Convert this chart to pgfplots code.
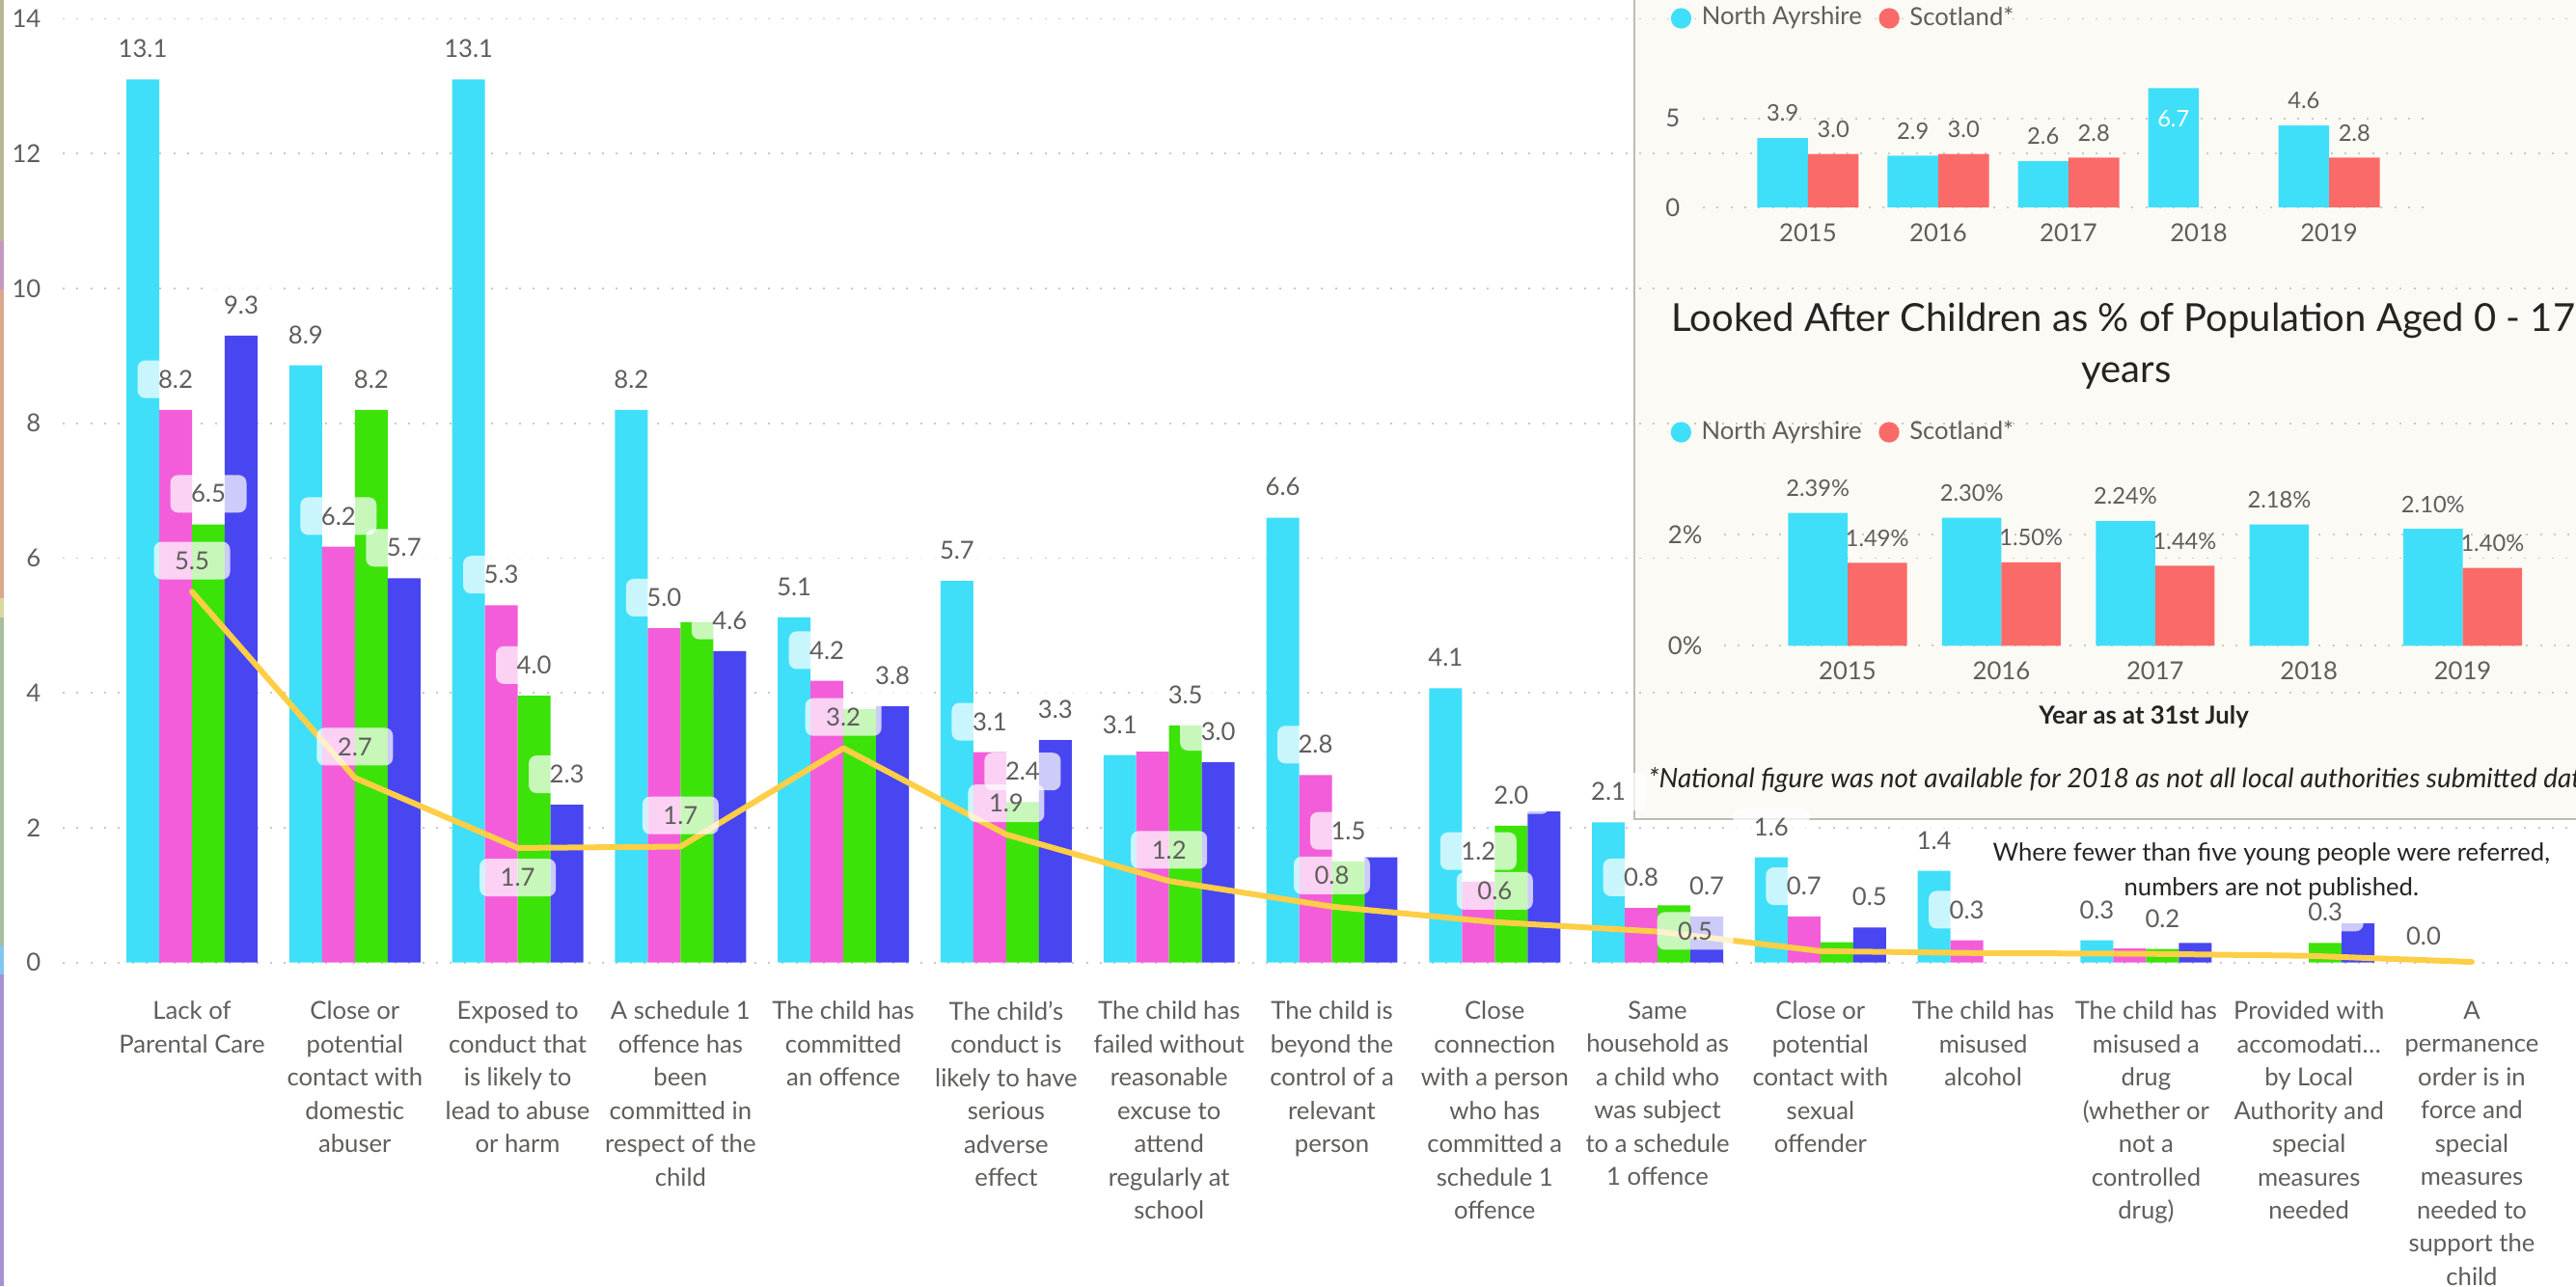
\documentclass[border=0pt]{standalone}
\usepackage{fontspec}
\setmainfont{Lato}
\usepackage{pgfplots}
\usepackage{pgfplotstable}
\pgfplotsset{compat=1.18}

\definecolor{cyanb}{RGB}{63,223,249}
\definecolor{magb}{RGB}{243,93,217}
\definecolor{greenb}{RGB}{59,227,9}
\definecolor{blueb}{RGB}{72,70,240}
\definecolor{lineY}{RGB}{254,206,70}
\definecolor{redb}{RGB}{250,106,104}
\definecolor{boxbg}{RGB}{252,250,244}
\definecolor{boxline}{RGB}{190,188,185}
\definecolor{txtgray}{RGB}{96,94,92}
\definecolor{txtdark}{RGB}{37,36,35}
\definecolor{gridc}{RGB}{200,200,200}
\definecolor{stripA}{RGB}{184,181,152}
\definecolor{stripB}{RGB}{200,152,196}
\definecolor{stripC}{RGB}{218,168,140}
\definecolor{stripD}{RGB}{216,216,160}
\definecolor{stripE}{RGB}{168,190,160}
\definecolor{stripF}{RGB}{128,200,240}
\definecolor{stripG}{RGB}{168,144,208}

% main chart: cyan, magenta, green, blue bars; ln = yellow line
% fc..fl = label shown (1) or hidden (0); ldx, ldy = offsets of the line labels
\pgfplotstableread{
g  c     m     gr    b     ln    fc fm fg fb fl ldx   ldy
0  13.1  8.2   6.5   9.3   5.5   1  1  1  1  1  0     3.65
1  8.86  6.17  8.2   5.7   2.74  1  1  1  1  1  0     3.65
2  13.1  5.3   3.96  2.34  1.7   1  1  1  1  1  0     -15.25
3  8.2   4.96  5.05  4.62  1.72  1  1  0  1  1  0     3.65
4  5.12  4.18  3.76  3.8   3.18  1  1  0  1  1  0     3.65
5  5.66  3.12  2.38  3.3   1.9   1  1  1  1  1  0     3.65
6  3.08  3.13  3.52  2.97  1.21  1  0  1  1  1  0     3.65
7  6.6   2.78  1.5   1.56  0.83  1  1  1  0  1  0     3.65
8  4.07  1.2   2.03  2.24  0.6   1  1  1  0  1  0     3.65
9  2.08  0.81  0.85  0.68  0.46  1  1  0  1  1  11.7  -5.85
10 1.56  0.68  0.3   0.52  0.17  1  1  0  1  0  0     3.65
11 1.36  0.33  nan   nan   0.14  1  1  0  0  0  0     3.65
12 0.33  0.21  0.2   0.29  0.13  1  0  1  0  0  0     3.65
13 nan   nan   0.29  0.58  0.1   0  0  1  0  0  0     3.65
14 nan   nan   nan   nan   0.01  0  0  0  0  1  -15   1.95
}\maindata

\pgfplotstableread{
g  na   sc   fna
0  3.9  3.0  1
1  2.9  3.0  1
2  2.6  2.8  1
3  6.7  nan  2
4  4.6  2.8  1
}\rateA

\pgfplotstableread{
g  na    sc
0  2.39  1.49
1  2.30  1.50
2  2.24  1.44
3  2.18  nan
4  2.10  1.40
}\rateB

\pgfplotsset{
  griddot/.style={gridc, line width=0.5pt, dash pattern=on 0.6pt off 3.7pt},
  mlbl/.style={draw=none, mark=none, forget plot, point meta=y,
    nodes near coords={\pgfmathprintnumber[fixed,fixed zerofill,precision=1]{\pgfplotspointmeta}},
    every node near coord/.append style={font=\fontsize{7.7}{9}\selectfont, text=txtgray,
      fill=white, fill opacity=0.72, text opacity=1, rounded corners=2.4pt, inner sep=0pt,
      minimum width=23.7pt, minimum height=11.7pt, anchor=south}},
  ilbl/.style={draw=none, mark=none, forget plot, point meta=y,
    every node near coord/.append style={font=\fontsize{7.1}{8.5}\selectfont, text=txtgray,
      inner sep=0pt, minimum height=8pt, anchor=south, yshift=3.5pt}},
  dotlegend/.style={legend image code/.code={\fill[#1] (3.2pt,0pt) circle (3.2pt);}},
}

\begin{document}
\begin{tikzpicture}
% thin coloured strip at the left edge
\fill[stripA] (0pt,324.9pt) rectangle (1.2pt,399.9pt);
\fill[stripB] (0pt,309.9pt) rectangle (1.2pt,324.9pt);
\fill[stripC] (0pt,213.9pt) rectangle (1.2pt,309.9pt);
\fill[stripD] (0pt,207.9pt) rectangle (1.2pt,213.9pt);
\fill[stripE] (0pt,105.9pt) rectangle (1.2pt,207.9pt);
\fill[stripF] (0pt,96.9pt) rectangle (1.2pt,105.9pt);
\fill[stripG] (0pt,0pt) rectangle (1.2pt,96.9pt);

% inset panel background
\fill[boxbg] (508.2pt,145.2pt) rectangle (815pt,410pt);
\draw[boxline, line width=0.6pt] (508.2pt,410pt) -- (508.2pt,145.2pt) -- (815pt,145.2pt);

% ---------------- main chart ----------------
\begin{axis}[
  at={(19.5pt,100.59pt)}, anchor=south west, scale only axis,
  width=781.5pt, height=293.46pt,
  xmin=-0.794, xmax=14.64, ymin=0, ymax=14,
  clip=false,
  axis line style={draw=none}, major tick length=0pt, tick style={draw=none},
  ymajorgrids, grid style={griddot},
  ytick={0,2,...,14},
  xtick={0,...,14},
  xticklabels={
    {Lack of\\Parental Care},
    {Close or\\potential\\contact with\\domestic\\abuser},
    {Exposed to\\conduct that\\is likely to\\lead to abuse\\or harm},
    {A schedule 1\\offence has\\been\\committed in\\respect of the\\child},
    {The child has\\committed\\an offence},
    {The child's\\conduct is\\likely to have\\serious\\adverse\\effect},
    {The child has\\failed without\\reasonable\\excuse to\\attend\\regularly at\\school},
    {The child is\\beyond the\\control of a\\relevant\\person},
    {Close\\connection\\with a person\\who has\\committed a\\schedule 1\\offence},
    {Same\\household as\\a child who\\was subject\\to a schedule\\1 offence},
    {Close or\\potential\\contact with\\sexual\\offender},
    {The child has\\misused\\alcohol},
    {The child has\\misused a\\drug\\(whether or\\not a\\controlled\\drug)},
    {Provided with\\accomodati\dots\\by Local\\Authority and\\special\\measures\\needed},
    {A\\permanence\\order is in\\force and\\special\\measures\\needed to\\support the\\child}},
  /pgf/number format/assume math mode=true,
  tick label style={font=\fontsize{7.7}{10.35}\selectfont, text=txtgray},
  yticklabel style={anchor=east, inner sep=0pt, xshift=-6.6pt},
  xticklabel style={anchor=north, inner sep=0pt, yshift=-11.8pt, align=center},
]
\addplot[ybar, bar width=0.2014, bar shift=-0.302, draw=none, fill=cyanb] table[x=g, y=c]{\maindata};
\addplot[ybar, bar width=0.2014, bar shift=-0.1007, draw=none, fill=magb] table[x=g, y=m]{\maindata};
\addplot[ybar, bar width=0.2014, bar shift=0.1007, draw=none, fill=greenb] table[x=g, y=gr]{\maindata};
\addplot[ybar, bar width=0.2014, bar shift=0.302, draw=none, fill=blueb] table[x=g, y=b]{\maindata};
\addplot[lineY, line width=1.8pt, line join=round, line cap=round, mark=none] table[x=g, y=ln]{\maindata};

\addplot[mlbl, every node near coord/.append style={yshift=3.45pt},
  restrict expr to domain={\thisrow{fc}}{1:1}] table[x expr=\thisrow{g}-0.302, y=c]{\maindata};
\addplot[mlbl, every node near coord/.append style={yshift=3.45pt},
  restrict expr to domain={\thisrow{fm}}{1:1}] table[x expr=\thisrow{g}-0.1007, y=m]{\maindata};
\addplot[mlbl, every node near coord/.append style={yshift=3.45pt},
  restrict expr to domain={\thisrow{fg}}{1:1}] table[x expr=\thisrow{g}+0.1007, y=gr]{\maindata};
\addplot[mlbl, every node near coord/.append style={yshift=3.45pt},
  restrict expr to domain={\thisrow{fb}}{1:1}] table[x expr=\thisrow{g}+0.302, y=b]{\maindata};
\addplot[mlbl,
  visualization depends on={\thisrow{ldx}\as\ldx},
  visualization depends on={\thisrow{ldy}\as\ldy},
  every node near coord/.append style={xshift=\ldx pt, yshift=\ldy pt},
  restrict expr to domain={\thisrow{fl}}{1:1}] table[x=g, y=ln]{\maindata};
\end{axis}

% ---------------- inset 1 ----------------
\begin{axis}[
  at={(529.5pt,335.4pt)}, anchor=south west, scale only axis,
  width=225.45pt, height=38.76pt,
  xmin=-0.807, xmax=4.759, ymin=0, ymax=7, clip=false,
  axis line style={draw=none}, major tick length=0pt, tick style={draw=none},
  ymajorgrids, grid style={griddot},
  ytick={0,5}, xtick={0,...,4}, xticklabels={2015,2016,2017,2018,2019},
  /pgf/number format/assume math mode=true,
  tick label style={font=\fontsize{7.7}{9}\selectfont, text=txtgray},
  yticklabel style={anchor=east, inner sep=0pt, xshift=-6.9pt},
  xticklabel style={anchor=center, inner sep=0pt, yshift=-8pt},
  legend style={at={(-0.045,1.517)}, anchor=west, draw=none, fill=none, inner sep=0pt,
    legend columns=-1, font=\fontsize{7.7}{9}\selectfont, text=txtgray,
    /tikz/every odd column/.append style={column sep=1.2pt},
    /tikz/every even column/.append style={column sep=3.3pt}},
]
\addplot[ybar, bar width=0.389, bar shift=-0.1944, draw=none, fill=cyanb, dotlegend] table[x=g, y=na]{\rateA};
\addlegendentry{North Ayrshire}
\addplot[ybar, bar width=0.389, bar shift=0.1944, draw=none, fill=redb, dotlegend] table[x=g, y=sc]{\rateA};
\addlegendentry{Scotland*}
\addplot[ilbl, nodes near coords={\pgfmathprintnumber[fixed,fixed zerofill,precision=1]{\pgfplotspointmeta}},
  restrict expr to domain={\thisrow{fna}}{1:1}] table[x expr=\thisrow{g}-0.1944, y=na]{\rateA};
\addplot[ilbl, nodes near coords={\pgfmathprintnumber[fixed,fixed zerofill,precision=1]{\pgfplotspointmeta}},
  every node near coord/.append style={text=white, yshift=-17.1pt},
  restrict expr to domain={\thisrow{fna}}{2:2}] table[x expr=\thisrow{g}-0.1944, y=na]{\rateA};
\addplot[ilbl, nodes near coords={\pgfmathprintnumber[fixed,fixed zerofill,precision=1]{\pgfplotspointmeta}}]
  table[x expr=\thisrow{g}+0.1944, y=sc]{\rateA};
\end{axis}

% ---------------- inset 2 ----------------
\begin{axis}[
  at={(536.1pt,199.11pt)}, anchor=south west, scale only axis,
  width=270.9pt, height=44.97pt,
  xmin=-0.803, xmax=4.862, ymin=0, ymax=2.6, clip=false,
  axis line style={draw=none}, major tick length=0pt, tick style={draw=none},
  ymajorgrids, grid style={griddot},
  ytick={0,2}, yticklabels={0\%,2\%},
  xtick={0,...,4}, xticklabels={2015,2016,2017,2018,2019},
  /pgf/number format/assume math mode=true,
  tick label style={font=\fontsize{7.7}{9}\selectfont, text=txtgray},
  yticklabel style={anchor=east, inner sep=0pt, xshift=-6.6pt},
  xticklabel style={anchor=center, inner sep=0pt, yshift=-7.7pt},
  legend style={at={(-0.062,1.476)}, anchor=west, draw=none, fill=none, inner sep=0pt,
    legend columns=-1, font=\fontsize{7.7}{9}\selectfont, text=txtgray,
    /tikz/every odd column/.append style={column sep=1.2pt},
    /tikz/every even column/.append style={column sep=3.3pt}},
]
\addplot[ybar, bar width=0.386, bar shift=-0.193, draw=none, fill=cyanb, dotlegend] table[x=g, y=na]{\rateB};
\addlegendentry{North Ayrshire}
\addplot[ybar, bar width=0.386, bar shift=0.193, draw=none, fill=redb, dotlegend] table[x=g, y=sc]{\rateB};
\addlegendentry{Scotland*}
\addplot[ilbl, nodes near coords={\pgfmathprintnumber[fixed,fixed zerofill,precision=2]{\pgfplotspointmeta}\%}]
  table[x expr=\thisrow{g}-0.193, y=na]{\rateB};
\addplot[ilbl, nodes near coords={\pgfmathprintnumber[fixed,fixed zerofill,precision=2]{\pgfplotspointmeta}\%}]
  table[x expr=\thisrow{g}+0.193, y=sc]{\rateB};
\end{axis}

% texts of the inset panel
\node[anchor=base west, inner sep=0pt, font=\fontsize{12}{14}\selectfont, text=txtdark]
  at (519.6pt,296.9pt) {Looked After Children as \% of Population Aged 0 - 17};
\node[anchor=base, inner sep=0pt, font=\fontsize{12}{14}\selectfont, text=txtdark]
  at (661.2pt,280.9pt) {years};
\node[anchor=base, inner sep=0pt, font=\bfseries\fontsize{7.7}{9}\selectfont, text=txtdark]
  at (666.6pt,174.7pt) {Year as at 31st July};
\node[anchor=base west, inner sep=0pt, font=\itshape\fontsize{8.35}{10}\selectfont, text=txtdark]
  at (512.4pt,155.1pt) {*National figure was not available for 2018 as not all local authorities submitted data};
\node[anchor=base, inner sep=0pt, font=\fontsize{7.7}{9}\selectfont, text=txtdark]
  at (706.3pt,132.3pt) {Where fewer than five young people were referred,};
\node[anchor=base, inner sep=0pt, font=\fontsize{7.7}{9}\selectfont, text=txtdark]
  at (706.3pt,121.5pt) {numbers are not published.};

\pgfresetboundingbox
\path[use as bounding box] (0pt,0pt) rectangle (801pt,399.9pt);
\end{tikzpicture}
\end{document}
